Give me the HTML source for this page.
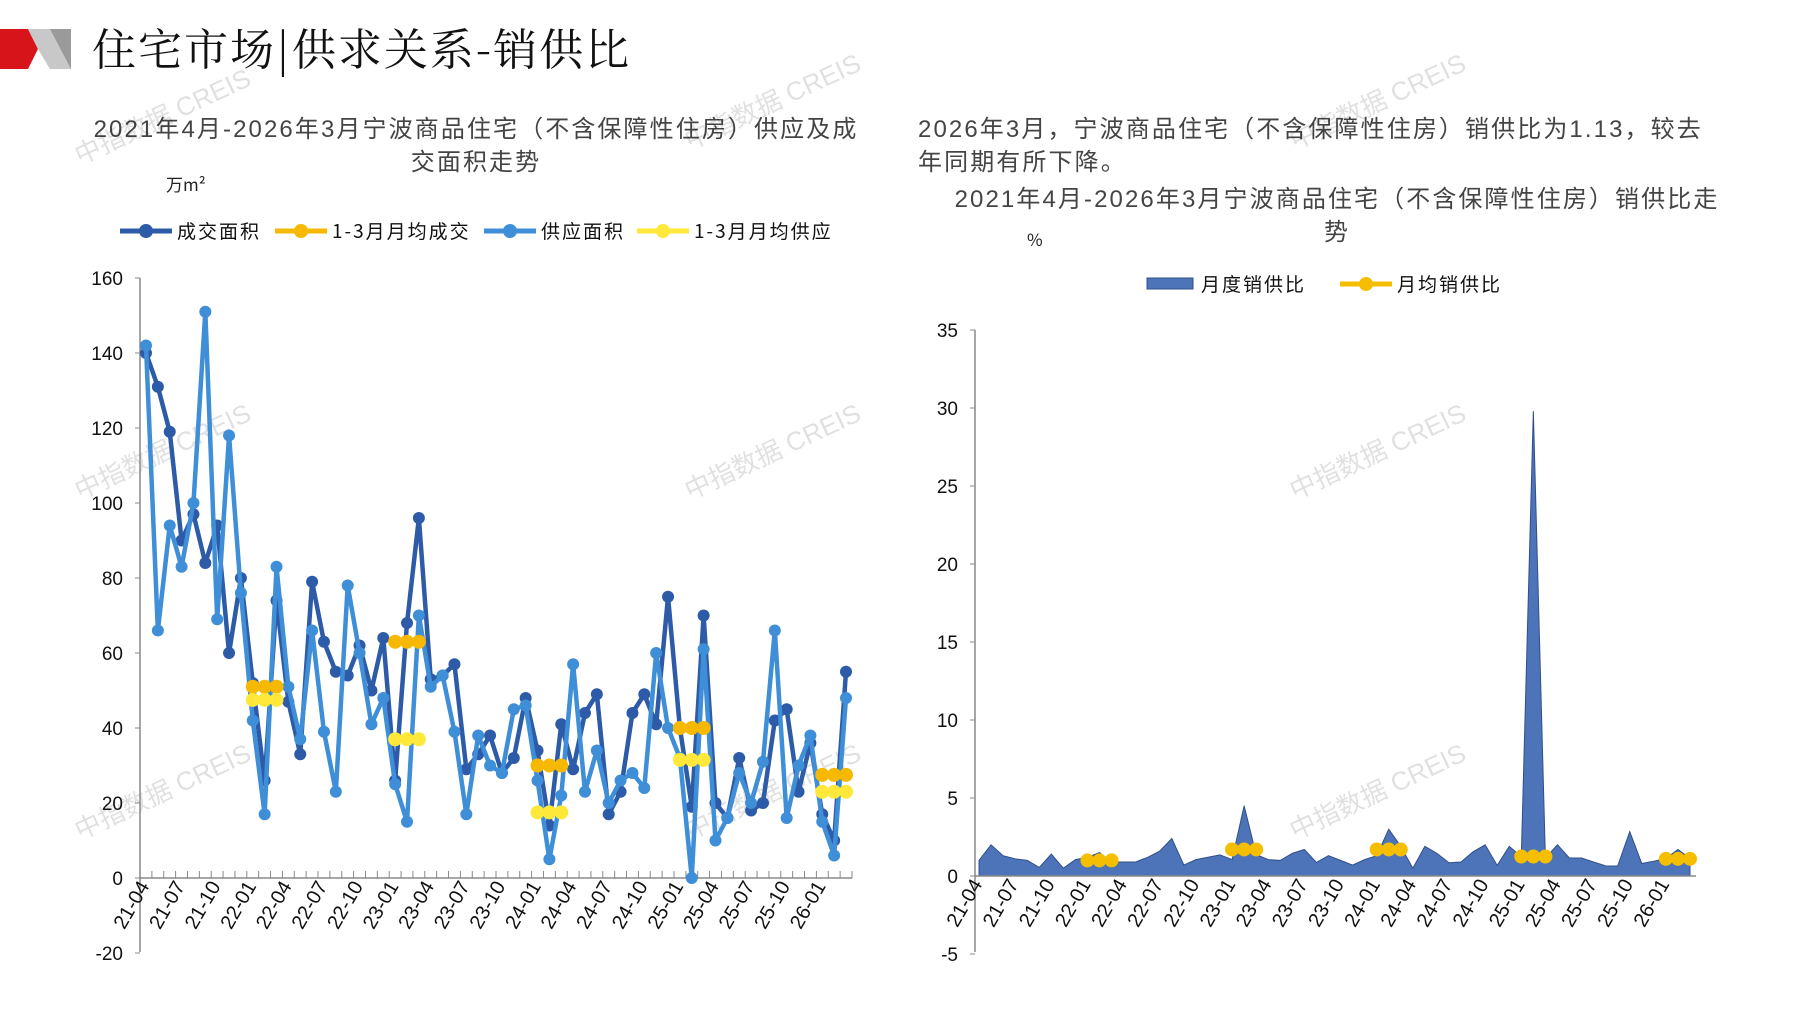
<!DOCTYPE html>
<html><head><meta charset="utf-8"><style>
html,body{margin:0;padding:0;background:#fff;}
svg text{font-family:"Liberation Sans","Noto Sans CJK SC",sans-serif;}
.cn{font-family:"Noto Sans CJK SC",sans-serif;}
.sr{font-family:"Noto Serif CJK SC","Noto Sans CJK SC",serif;}
</style></head><body>
<svg id="s" width="1797" height="1010" viewBox="0 0 1797 1010" xmlns="http://www.w3.org/2000/svg">
<polygon points="0,29 28,29 38,49 28,69 0,69" fill="#d7141a"/>
<polygon points="28,29 71,29 71,69 50,69 38,49" fill="#c8c8c8"/>
<polygon points="50,29 71,29 71,69" fill="#9a9a9a"/>
<text x="92" y="65" font-size="44" class="sr" letter-spacing="2" fill="#111">住宅市场|供求关系-销供比</text>
<g fill="#444" font-size="24" class="cn" letter-spacing="2.1">
<text x="476" y="137" text-anchor="middle">2021年4月-2026年3月宁波商品住宅（不含保障性住房）供应及成</text>
<text x="476" y="170" text-anchor="middle">交面积走势</text>
<text x="918" y="137">2026年3月，宁波商品住宅（不含保障性住房）销供比为1.13，较去</text>
<text x="918" y="170">年同期有所下降。</text>
<text x="1337" y="207" text-anchor="middle">2021年4月-2026年3月宁波商品住宅（不含保障性住房）销供比走</text>
<text x="1337" y="240" text-anchor="middle">势</text>
</g>
<text x="166" y="191" font-size="17" class="cn" fill="#222">万m²</text>
<text x="1027" y="246" font-size="17" class="cn" fill="#222">%</text>
<g id="g"></g>
</svg>
<script>
const g=document.getElementById('g');
function el(t,a,txt){const e=document.createElementNS('http://www.w3.org/2000/svg',t);for(const k in a)e.setAttribute(k,a[k]);if(txt!==undefined)e.textContent=txt;g.appendChild(e);return e;}
const deal=[140,131,119,90,97,84,94,60,80,52,26,74,47,33,79,63,55,54,62,50,64,26,68,96,53,54,57,29,33,38,28,32,48,34,14,41,29,44,49,17,23,44,49,41,75,40,19,70,20,16,32,18,20,42,45,23,36,17,10,55];
const sup=[142,66,94,83,100,151,69,118,76,42,17,83,51,37,66,39,23,78,60,41,48,25,15,70,51,54,39,17,38,30,28,45,46,26,5,22,57,23,34,20,26,28,24,60,40,32,0,61,10,16,28,20,31,66,16,30,38,15,6,48];
const ratio=[1.0,2.0,1.3,1.1,1.0,0.55,1.4,0.5,1.05,1.2,1.5,0.9,0.9,0.9,1.2,1.6,2.4,0.7,1.05,1.2,1.35,1.05,4.5,1.37,1.05,1.0,1.45,1.7,0.87,1.3,1.0,0.7,1.05,1.3,3.0,1.9,0.5,1.9,1.45,0.85,0.9,1.55,2.0,0.68,1.9,1.25,29.8,1.15,2.0,1.15,1.15,0.9,0.65,0.64,2.85,0.8,0.95,1.13,1.7,1.13];
const labels=['21-04','21-07','21-10','22-01','22-04','22-07','22-10','23-01','23-04','23-07','23-10','24-01','24-04','24-07','24-10','25-01','25-04','25-07','25-10','26-01'];
const starts=[9,21,33,45,57];
[[80,165],[690,150],[80,500],[690,500],[80,840],[690,840],[1295,150],[1295,500],[1295,840]].forEach(p=>{el('text',{x:p[0],y:p[1],transform:`rotate(-25 ${p[0]} ${p[1]})`,'font-size':26,fill:'#000','fill-opacity':0.12},'中指数据 CREIS');});
const L={x1:146,st:(846-146)/59,y0:878,k:(878-278)/160};
const ly=v=>L.y0-v*L.k, lx=i=>L.x1+i*L.st;
el('line',{x1:140,y1:278,x2:140,y2:952,stroke:'#888','stroke-width':1.5});
el('line',{x1:140,y1:878,x2:852,y2:878,stroke:'#888','stroke-width':1.5});
for(let v=-20;v<=160;v+=20){el('line',{x1:135,y1:ly(v),x2:140,y2:ly(v),stroke:'#888'});el('text',{x:123,y:ly(v)+7,'font-size':19,'text-anchor':'end',fill:'#111'},v);}
for(let i=0;i<=60;i++){const x=140+i*(712/60);el('line',{x1:x,y1:871,x2:x,y2:878,stroke:'#888'});}
labels.forEach((t,j)=>{const x=lx(j*3)+4,y=886;el('text',{x:x,y:y,'font-size':20,'text-anchor':'end',transform:`rotate(-60 ${x} ${y})`,fill:'#111'},t);});
function series(d,fx,fy,col,r,w){el('polyline',{points:d.map((v,i)=>fx(i)+','+fy(v)).join(' '),fill:'none',stroke:col,'stroke-width':w,'stroke-linejoin':'round'});d.forEach((v,i)=>el('circle',{cx:fx(i),cy:fy(v),r:r,fill:col}));}
series(deal,lx,ly,'#2d5ba8',6,4.5);
series(sup,lx,ly,'#3f8ed8',6,4.5);
const da=[51,63,30,40,27.5],sa=[47.5,37,17.5,31.5,23];
starts.forEach((s,j)=>{const xs=[0,1,2].map(k=>lx(s+k));
el('line',{x1:xs[0],y1:ly(da[j]),x2:xs[2],y2:ly(da[j]),stroke:'#f6b800','stroke-width':5});xs.forEach(x=>el('circle',{cx:x,cy:ly(da[j]),r:7,fill:'#f6b800'}));
el('line',{x1:xs[0],y1:ly(sa[j]),x2:xs[2],y2:ly(sa[j]),stroke:'#ffe83a','stroke-width':5});xs.forEach(x=>el('circle',{cx:x,cy:ly(sa[j]),r:7,fill:'#ffe83a'}));});
const lg=[[120,'#2d5ba8','成交面积'],[275,'#f6b800','1-3月月均成交'],[484,'#3f8ed8','供应面积'],[637,'#ffe83a','1-3月月均供应']];
lg.forEach(l=>{el('line',{x1:l[0],y1:231,x2:l[0]+52,y2:231,stroke:l[1],'stroke-width':5});el('circle',{cx:l[0]+26,cy:231,r:7,fill:l[1]});el('text',{x:l[0]+57,y:238,'font-size':19,fill:'#111',class:'cn','letter-spacing':2},l[2]);});
const R={x1:979,st:(1690-979)/59,y0:876,k:(876-330)/35};
const ry=v=>R.y0-v*R.k, rx=i=>R.x1+i*R.st;
el('line',{x1:975,y1:330,x2:975,y2:952,stroke:'#888','stroke-width':1.5});
for(let v=-5;v<=35;v+=5){el('line',{x1:970,y1:ry(v),x2:975,y2:ry(v),stroke:'#888'});el('text',{x:958,y:ry(v)+7,'font-size':19,'text-anchor':'end',fill:'#111'},v);}
el('polygon',{points:`${rx(0)},${ry(0)} `+ratio.map((v,i)=>rx(i)+','+ry(v)).join(' ')+` ${rx(59)},${ry(0)}`,fill:'#4d74b8',stroke:'#2f4f8a','stroke-width':1});
el('line',{x1:975,y1:876,x2:1696,y2:876,stroke:'#888','stroke-width':1.5});
labels.forEach((t,j)=>{const x=rx(j*3)+4,y=884;el('text',{x:x,y:y,'font-size':20,'text-anchor':'end',transform:`rotate(-60 ${x} ${y})`,fill:'#111'},t);});
const ra=[1.0,1.7,1.7,1.25,1.1];
starts.forEach((s,j)=>{const xs=[0,1,2].map(k=>rx(s+k));el('line',{x1:xs[0],y1:ry(ra[j]),x2:xs[2],y2:ry(ra[j]),stroke:'#f6be00','stroke-width':5});xs.forEach(x=>el('circle',{cx:x,cy:ry(ra[j]),r:7,fill:'#f6be00'}));});
el('rect',{x:1147,y:278,width:46,height:11,fill:'#4d74b8',stroke:'#2f4f8a'});
el('text',{x:1201,y:291,'font-size':19,fill:'#111',class:'cn','letter-spacing':2},'月度销供比');
el('line',{x1:1340,y1:284,x2:1392,y2:284,stroke:'#f6be00','stroke-width':5});
el('circle',{cx:1366,cy:284,r:7,fill:'#f6be00'});
el('text',{x:1397,y:291,'font-size':19,fill:'#111',class:'cn','letter-spacing':2},'月均销供比');
</script>
</body></html>
